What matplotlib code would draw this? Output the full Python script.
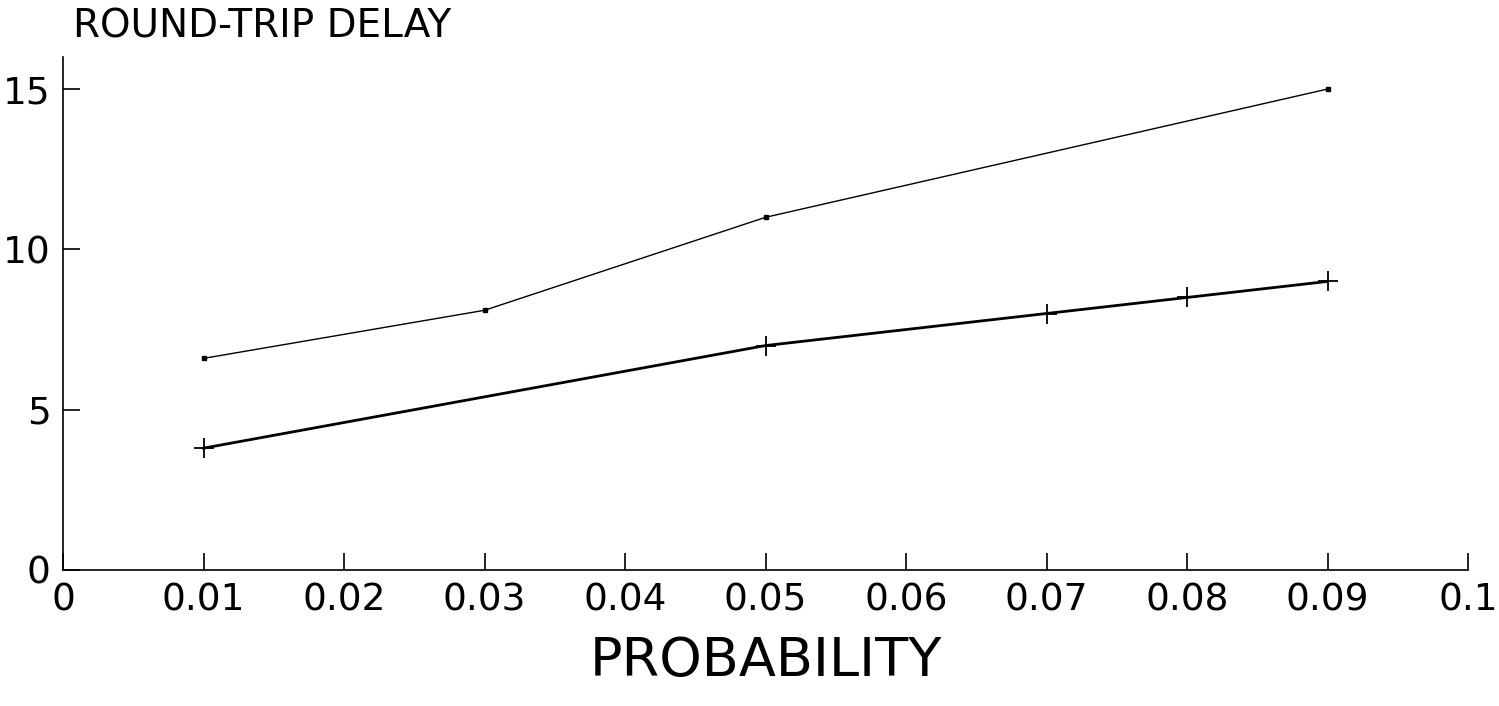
import matplotlib
matplotlib.use('Agg')
import matplotlib.pyplot as plt

# DATOS
x_upper = [0.01, 0.03, 0.05, 0.09]
y_upper = [6.6, 8.1, 11.0, 15.0]

x_lower = [0.01, 0.05, 0.07, 0.08, 0.09]
y_lower = [3.8, 7.0, 8.0, 8.5, 9.0]

x_ticks = [0, 0.01, 0.02, 0.03, 0.04, 0.05, 0.06, 0.07, 0.08, 0.09, 0.1]
x_tick_labels = ['0', '0.01', '0.02', '0.03', '0.04', '0.05', '0.06', '0.07', '0.08', '0.09', '0.1']
y_ticks = [0, 5, 10, 15]
y_tick_labels = ['0', '5', '10', '15']

plt.rcParams['font.family'] = ['DejaVu Sans']

fig = plt.figure(figsize=(14.99, 7.06), dpi=100)
ax = fig.add_axes([63/1499, 1-570/706, (1468-63)/1499, (570-57)/706])

ax.plot(x_upper, y_upper, color='black', linewidth=1.0, marker='s', markersize=2.5)
ax.plot(x_lower, y_lower, color='black', linewidth=2.0, marker='+', markersize=15, markeredgewidth=1.3)

ax.set_xlim(0, 0.1)
ax.set_ylim(0, 16)
ax.spines['top'].set_visible(False)
ax.spines['right'].set_visible(False)
ax.spines['left'].set_linewidth(1.2)
ax.spines['bottom'].set_linewidth(1.2)

ax.set_xticks(x_ticks)
ax.set_xticklabels(x_tick_labels)
ax.set_yticks(y_ticks)
ax.set_yticklabels(y_tick_labels)
ax.tick_params(axis='both', direction='in', length=12, width=1.2, labelsize=27)
ax.tick_params(axis='x', pad=9)
ax.tick_params(axis='y', pad=9)

ax.set_xlabel('PROBABILITY', fontsize=39, labelpad=12)
fig.text(73/1499, 1-27/706, 'ROUND-TRIP DELAY', fontsize=28, ha='left', va='center')

fig.savefig('out.png', dpi=100)
